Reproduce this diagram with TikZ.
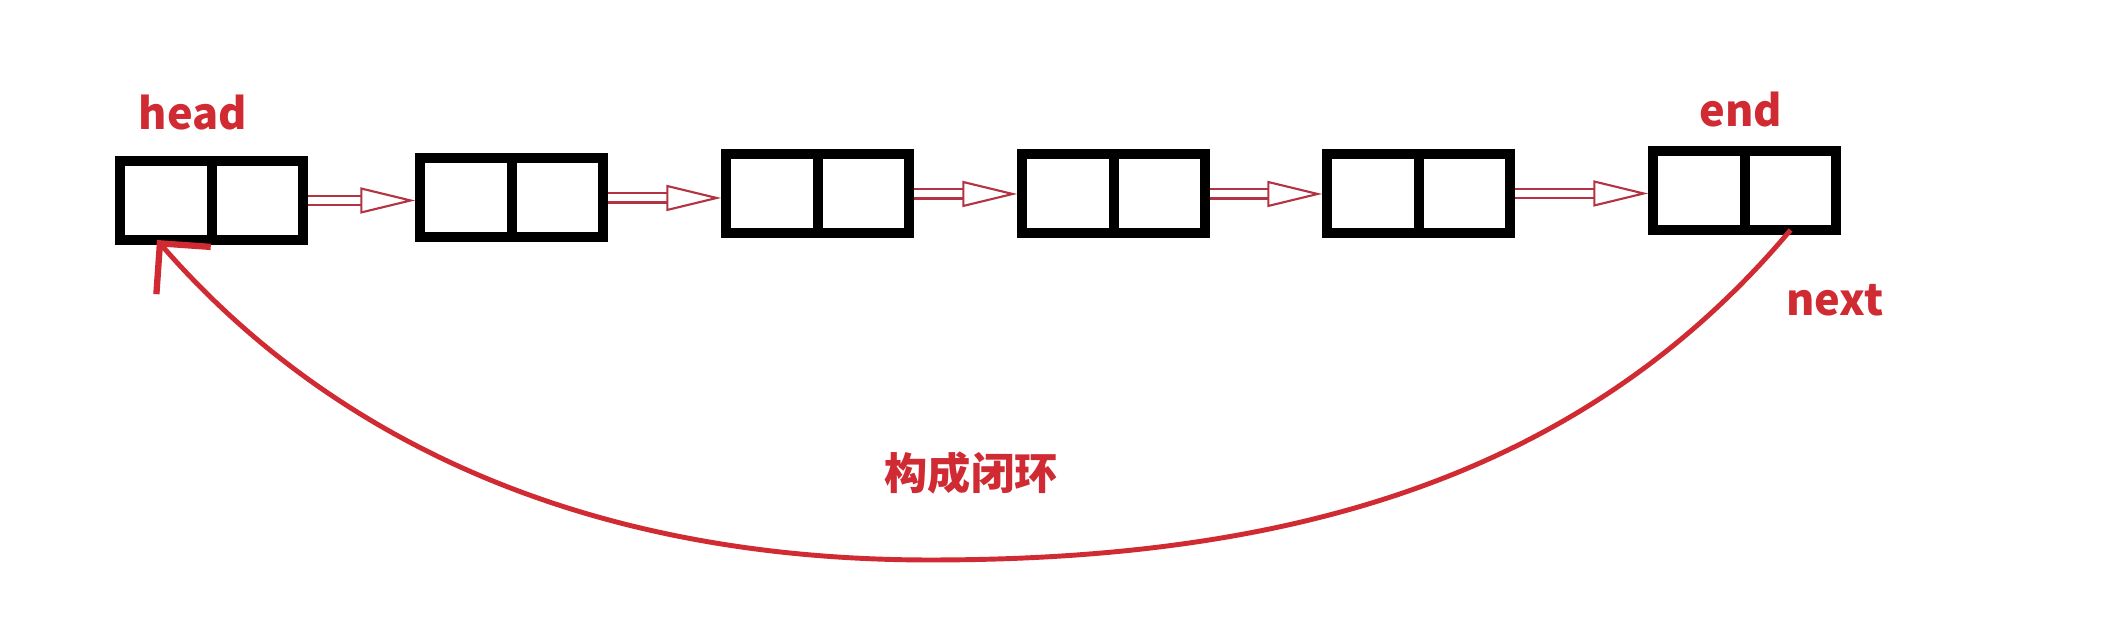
\documentclass[tikz,border=0pt]{standalone}
\usepackage{fontspec}
\setmainfont{Noto Sans CJK SC}
\usetikzlibrary{positioning, arrows.meta, calc}
\definecolor{loopred}{RGB}{208,42,50}
\definecolor{arrowred}{RGB}{178,52,66}

\begin{document}
\begin{tikzpicture}
    \tikzstyle{cell}=[draw, line width=0.1cm, minimum width=0.915cm, minimum height=0.79cm, inner sep=0pt, outer sep=0pt]
    \tikzstyle{lbl}=[text=loopred, font=\bfseries\fontsize{12.3}{14}\selectfont, inner sep=0pt]
    \tikzstyle{hollow}=[draw=arrowred, line width=0.6pt, double=white, double distance=0.07cm, shorten <=0.05cm, shorten >=0.05cm, -{Triangle[open, length=0.55cm, width=0.26cm]}]
    \tikzstyle{loopline}=[draw=loopred, line width=1.4pt, -{Straight Barb[length=0.36cm, width=0.72cm, line width=1.8pt]}]

    \useasboundingbox (0,0) rectangle (21.22,6.42);

    % List nodes: data cell and next cell
    \node[cell] (d1) at (1.66,4.415) {};
    \node[cell, right=0pt of d1] (p1) {};
    \node[cell] (d2) at (4.66,4.44) {};
    \node[cell, right=0pt of d2] (p2) {};
    \node[cell] (d3) at (7.72,4.48) {};
    \node[cell, right=0pt of d3] (p3) {};
    \node[cell] (d4) at (10.68,4.48) {};
    \node[cell, right=0pt of d4] (p4) {};
    \node[cell] (d5) at (13.73,4.485) {};
    \node[cell, right=0pt of d5] (p5) {};
    \node[cell] (d6) at (16.99,4.515) {};
    \node[cell, right=0pt of d6] (p6) {};

    % Links between neighbours
    \draw[hollow] (p1.east) -- (p1.east -| d2.west);
    \draw[hollow] (p2.east) -- (p2.east -| d3.west);
    \draw[hollow] (p3.east) -- (p3.east -| d4.west);
    \draw[hollow] (p4.east) -- (p4.east -| d5.west);
    \draw[hollow] (p5.east) -- (p5.east -| d6.west);

    % Closing the ring
    \coordinate (low) at (9.30,0.82);
    \draw[loopline] (p6.south) .. controls +(230:3.3) and +(0:3.5) .. (low)
        .. controls +(180:3.5) and +(-49:2.6) .. ([xshift=-0.09cm]d1.south);

    % Labels
    \node[lbl] (headlbl) at (1.93,5.29) {head};
    \node[lbl] (endlbl) at (17.41,5.32) {end};
    \node[lbl] (nextlbl) at (18.35,3.42) {next};
    \node[lbl] (looplbl) at (9.71,1.69) {构成闭环};
\end{tikzpicture}
\end{document}
